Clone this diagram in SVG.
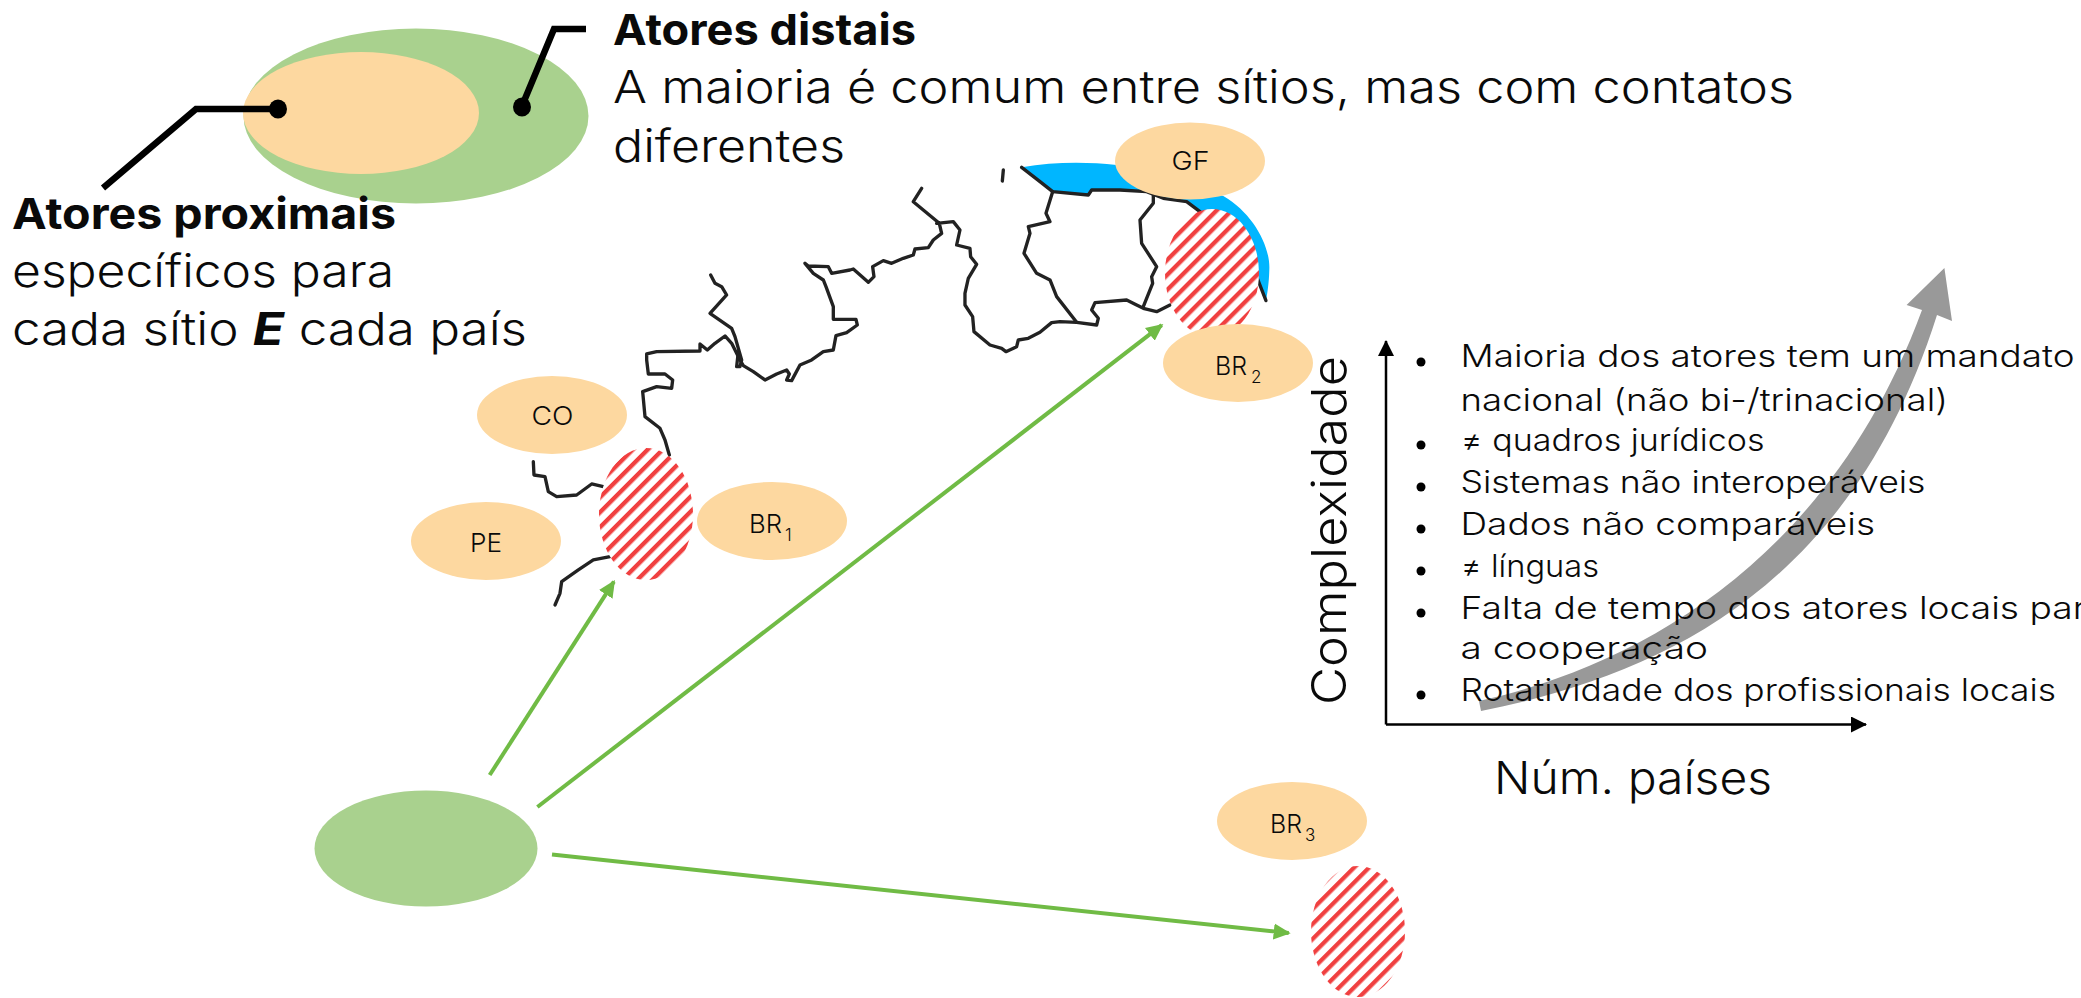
<svg xmlns="http://www.w3.org/2000/svg" width="2081" height="998" viewBox="0 0 2081 998">
<style>
text{font-family:Inter,"Noto Sans","Liberation Sans",sans-serif;font-weight:300;fill:#0a0a0a}
.h{font-size:43px;font-weight:700}
.b{font-size:45px}
.a{font-size:48px}
.l{font-size:31px}
.n{font-size:26px}
.s{font-size:17px}
.prox{fill:#fdd8a0}
.dist{fill:#a9d18e}
.hatch{fill:url(#stripes)}
.lead{fill:none;stroke:#000;stroke-width:6.5}
.river{fill:none;stroke:#222;stroke-width:10;stroke-linejoin:round;stroke-linecap:round}
.link{stroke:#70bb45;stroke-width:4;fill:none;marker-end:url(#ga)}
.axis{stroke:#000;stroke-width:2.5;fill:none;marker-end:url(#ka)}
</style>
<defs>
<pattern id="stripes" patternUnits="userSpaceOnUse" width="10.6" height="10.6" patternTransform="rotate(45)">
<rect width="10.6" height="10.6" fill="#fff"/><rect width="4.3" height="10.6" fill="#f04040"/>
</pattern>
<marker id="ga" markerUnits="userSpaceOnUse" markerWidth="20" markerHeight="18" refX="15" refY="9" orient="auto"><path d="M0,1 L17,9 L0,17Z" fill="#70bb45"/></marker>
<marker id="ka" markerUnits="userSpaceOnUse" markerWidth="18" markerHeight="18" refX="15" refY="8" orient="auto"><path d="M0,0 L16,8 L0,16Z" fill="#000"/></marker>
</defs>

<g id="legend-distal"><ellipse class="dist" cx="416" cy="116" rx="172.5" ry="87.5"/></g>
<g id="legend-proximal"><ellipse class="prox" cx="361" cy="113" rx="118" ry="61"/></g>
<g id="leaders">
<path class="lead" d="M278,109H196L103,188"/><ellipse cx="278" cy="109" rx="9" ry="9.5"/>
<path class="lead" d="M522,106L554,29H586"/><ellipse cx="522" cy="107" rx="9" ry="9.5"/>
</g>
<g id="label-proximal">
<text class="h" x="12" y="229" textLength="384" lengthAdjust="spacingAndGlyphs">Atores proximais</text>
<text class="b" x="12" y="287" textLength="382" lengthAdjust="spacingAndGlyphs">específicos para</text>
<text class="b" x="12" y="345" textLength="515" lengthAdjust="spacingAndGlyphs">cada sítio <tspan font-weight="700" font-style="italic">E</tspan> cada país</text>
</g>
<g id="label-distal">
<text class="h" x="613" y="45" textLength="303" lengthAdjust="spacingAndGlyphs">Atores distais</text>
<text class="b" x="613" y="103" textLength="1181" lengthAdjust="spacingAndGlyphs">A maioria é comum entre sítios, mas com contatos</text>
<text class="b" x="613" y="162" textLength="232" lengthAdjust="spacingAndGlyphs">diferentes</text>
</g>

<g id="map">
<path fill="#00b6ff" transform="translate(960,110) scale(.3333)" d="M185,172C280,155 380,155 470,165L790,258C880,310 932,410 928,480C927,520 922,550 918,575L890,510L720,305L680,275L610,265L560,245L480,240L395,240L385,255L278,245L240,215Z"/>
<g transform="translate(620,170) scale(.3333)">
<path class="river" d="M148,855L135,810L120,775L75,740L68,665L110,650L155,655L158,630L135,612L85,612L80,570L80,552L110,545L240,543L240,522L262,540L285,520L315,498L335,520L360,570L370,587L400,605L435,630L470,612L500,600L508,612L500,630L515,632L540,585L575,570L610,545L640,540L648,497L680,488L712,465L708,448L640,448L640,410L618,350L610,330L580,310L555,280L565,288L625,290L635,310L690,300L700,297L745,337L762,320L758,290L790,272L815,280L850,265L880,255L885,237L925,233L940,210L965,190L958,160L880,95L905,55M950,160L1000,155L1020,180L1010,225L1050,235L1052,260L1070,283L1045,325L1035,370L1035,405L1058,440L1062,485L1110,525L1145,535L1158,545L1190,530L1195,510L1225,505L1260,487L1295,458L1320,455L1370,457"/>
<path class="river" d="M272,315L285,340L305,350L320,375L270,430L335,475L345,500L365,570L360,590L350,590L355,545"/>
</g>
<g transform="translate(960,110) scale(.3333)">
<path class="river" d="M350,637L410,645L415,625L395,600L405,578L500,570L530,585L550,595L590,605L630,585"/>
<path class="river" d="M550,590L578,520L575,500L590,470L545,400L540,330L580,280L580,255"/>
<path class="river" d="M350,637L290,560L270,510L230,490L192,430L210,370L205,350L270,335L258,310L278,245"/>
<path class="river" d="M127,213L130,180M185,172L240,215L278,245L385,255L395,240L480,240L560,245L610,265L680,275L720,305"/>
<path class="river" d="M890,500L918,572"/>
</g>
<g transform="translate(390,360) scale(.3333)">
<path class="river" d="M430,305L432,345L465,350L475,395L500,410L560,405L605,372L640,380"/>
<path class="river" d="M660,590L610,600L565,630L515,665L510,700L495,735"/>
</g>
</g>

<g id="site-1"><ellipse class="hatch" cx="646" cy="514" rx="47" ry="66"/></g>
<g id="site-2"><ellipse class="hatch" cx="1212" cy="273" rx="47" ry="64"/></g>
<g id="site-3"><ellipse class="hatch" cx="1358" cy="931.5" rx="47" ry="65.5"/></g>

<g id="node-co"><ellipse class="prox" cx="552" cy="415" rx="75" ry="39"/><text class="n" x="531.5" y="425" textLength="42" lengthAdjust="spacingAndGlyphs">CO</text></g>
<g id="node-pe"><ellipse class="prox" cx="486" cy="541" rx="75" ry="39"/><text class="n" x="470" y="552" textLength="32" lengthAdjust="spacingAndGlyphs">PE</text></g>
<g id="node-br1"><ellipse class="prox" cx="772" cy="521" rx="75" ry="39"/><text class="n" x="749" y="533" textLength="33" lengthAdjust="spacingAndGlyphs">BR</text><text class="s" x="785" y="541">1</text></g>
<g id="node-gf"><ellipse class="prox" cx="1190" cy="161" rx="75" ry="38.5"/><text class="n" x="1171.5" y="170" textLength="38" lengthAdjust="spacingAndGlyphs">GF</text></g>
<g id="node-br2"><ellipse class="prox" cx="1238" cy="363" rx="75" ry="39"/><text class="n" x="1215" y="375" textLength="32" lengthAdjust="spacingAndGlyphs">BR</text><text class="s" x="1251" y="383">2</text></g>
<g id="node-br3"><ellipse class="prox" cx="1292" cy="821" rx="75" ry="39"/><text class="n" x="1270" y="833" textLength="32" lengthAdjust="spacingAndGlyphs">BR</text><text class="s" x="1305" y="841">3</text></g>
<g id="node-source"><ellipse class="dist" cx="426" cy="848.5" rx="111.5" ry="58"/></g>

<g id="connectors">
<line class="link" x1="489.7" y1="775" x2="613.9" y2="581.7"/>
<line class="link" x1="537.4" y1="807" x2="1161.7" y2="325.2"/>
<line class="link" x1="552" y1="854.6" x2="1288.7" y2="933.1"/>
<path class="axis" d="M1386,724.5V341"/>
<path class="axis" d="M1386,724.5H1866"/>
</g>

<g id="trend-arrow">
<path fill="#999" d="M1479,701C1640,665 1830,560 1922,310L1906.6,305L1944.4,268L1952,321L1937,315C1850,590 1660,675 1481,711Z"/>
</g>

<g id="chart-labels">
<text class="a" transform="translate(1345.5,705) rotate(-90)" textLength="349" lengthAdjust="spacingAndGlyphs">Complexidade</text>
<text class="b" x="1494" y="793.5" textLength="278" lengthAdjust="spacingAndGlyphs">Núm. países</text>
</g>
<g id="list">
<circle cx="1421" cy="362" r="4.5"/><text class="l" x="1460.5" y="367" textLength="614" lengthAdjust="spacingAndGlyphs">Maioria dos atores tem um mandato</text>
<text class="l" x="1460.5" y="410.5" textLength="487.5" lengthAdjust="spacingAndGlyphs">nacional (não bi-/trinacional)</text>
<circle cx="1421" cy="445" r="4.5"/><text class="l" x="1460.5" y="450.5" textLength="304" lengthAdjust="spacingAndGlyphs">≠ quadros jurídicos</text>
<circle cx="1421" cy="487" r="4.5"/><text class="l" x="1460.5" y="493" textLength="465" lengthAdjust="spacingAndGlyphs">Sistemas não interoperáveis</text>
<circle cx="1421" cy="529" r="4.5"/><text class="l" x="1460.5" y="534.5" textLength="414.5" lengthAdjust="spacingAndGlyphs">Dados não comparáveis</text>
<circle cx="1421" cy="571" r="4.5"/><text class="l" x="1460.5" y="576.5" textLength="138.5" lengthAdjust="spacingAndGlyphs">≠ línguas</text>
<circle cx="1421" cy="613" r="4.5"/><text class="l" x="1460.5" y="618.5" textLength="646" lengthAdjust="spacingAndGlyphs">Falta de tempo dos atores locais para</text>
<text class="l" x="1460.5" y="659" textLength="247.5" lengthAdjust="spacingAndGlyphs">a cooperação</text>
<circle cx="1421" cy="695" r="4.5"/><text class="l" x="1460.5" y="701" textLength="595.5" lengthAdjust="spacingAndGlyphs">Rotatividade dos profissionais locais</text>
</g>
</svg>
